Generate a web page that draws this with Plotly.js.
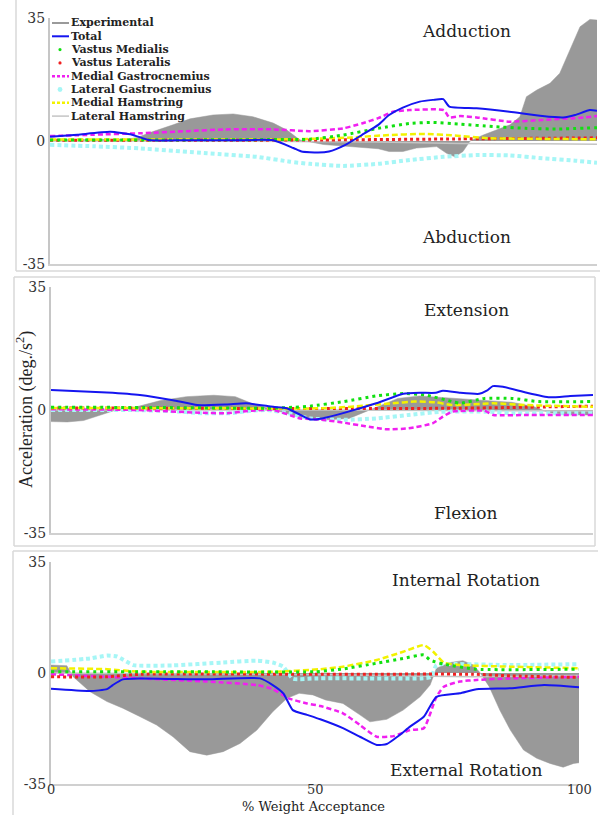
<!DOCTYPE html>
<html>
<head>
<meta charset="utf-8">
<script src="https://cdn.plot.ly/plotly-3.0.1.min.js"></script>
<style>html,body{margin:0;padding:0;background:#fff;}#chart{width:605px;height:815px;}</style>
</head>
<body>
<div id="chart"></div>
<script>
// ---------- DATA ----------
const seriesNames = ["Experimental","Total","Vastus Medialis","Vastus Lateralis","Medial Gastrocnemius","Lateral Gastrocnemius","Medial Hamstring","Lateral Hamstring"];
const panelLabelsTop = ["Adduction","Extension","Internal Rotation"];
const panelLabelsBottom = ["Abduction","Flexion","External Rotation"];
const yTickVals = [-35, 0, 35];
const xTickVals = [0, 50, 100];
const yTitle = "Acceleration (deg./s<sup>2</sup>)";
const xTitle = "% Weight Acceptance";

// Panel 1 (adduction / abduction)
const exp1X = [0,5,10,14,16,18.3,22.5,25.6,29.8,33.5,37.1,40.8,43.3,45.7,50,55,60,62,64.5,67,70.7,72.5,74,75.5,76.8,79.2,81.7,84.1,85.9,87.1,89,91.4,93.2,94.5,95.7,96.9,98.7,100];
const exp1Y = [0.3,0.4,0.4,0.5,1.0,2.4,4.6,6.3,7.4,7.7,6.9,5.1,3.1,0.3,-1.0,-1.5,-2.2,-3.0,-3.0,-2.0,-1.6,-3.5,-4.5,-3.0,0,1.7,3.1,4.6,6.9,12.6,14.5,16.4,19.3,24,28.7,32.5,34.6,34.4];
const tot1X = [0,5,11,15,18,25,33,40.8,44.5,46,49,51,54,57,60,62,64.5,67.6,70,71.9,73,78,84,90,93.8,96,98.7,100];
const tot1Y = [1.2,1.8,2.6,1.8,0.3,0.2,0.2,0.2,-2.0,-3.0,-3.3,-3.0,-1.1,1.7,4.6,7.4,9.5,11.2,11.7,11.9,9.8,9.3,8.3,7.1,6.7,7.4,8.8,8.6];
const vm1X = [0,20,40,47.5,53.6,60,65.8,70,75,81,87,93,100];
const vm1Y = [0.3,0.3,0.4,0.5,1.7,3.6,5.0,5.3,4.8,4.1,3.6,3.4,3.8];
const vl1X = [0,25,50,75,100];
const vl1Y = [0.2,0.2,0.3,0.6,0.9];
const mg1X = [0,8,16.5,25,32,40.8,47.5,53.6,57,60,62.7,65.8,72,73,75,78,84,90,96,100];
const mg1Y = [1.4,1.8,2.2,2.8,3.3,3.3,2.8,3.6,5.0,6.5,8.3,8.8,8.8,6.7,7.1,6.7,5.5,6.0,6.5,7.1];
const lg1X = [0,8,16.5,28.7,37.8,43.9,47.5,53.6,60,65.8,72,78,84,90,96,100];
const lg1Y = [-1.1,-1.5,-2.1,-3.5,-4.5,-5.9,-6.5,-7.1,-6.5,-5.4,-4.5,-4.0,-4.1,-4.9,-5.6,-6.2];
const mh1X = [0,25,45,55,62,68,74,80,90,100];
const mh1Y = [0.4,0.4,0.5,1.0,1.7,2.0,1.6,0.8,0.6,0.5];
const lh1X = [0,30,60,75,90,100];
const lh1Y = [0,0,-0.3,-0.7,-0.8,-0.9];

// Panel 2 (extension / flexion)
const exp2X = [0,3,6,9,12,16,20,25,30,34,37,40,43,47,51,55,58,61,64,68,72,76,80,85,89,92,96,100];
const exp2Y = [-3.3,-3.4,-3.0,-1.5,0,1.0,2.6,3.8,4.2,3.8,1.9,0.6,-0.8,-2.4,-2.8,-2.4,-0.5,1.5,3.3,4.0,3.6,3.0,2.6,2.2,1.0,-0.8,-1.4,-1.4];
const tot2X = [0,10.3,16.4,22.5,27,32.5,36,41,43.5,46,47.8,50,53.9,60,65,68,71,72.3,75.5,79,80.4,81.5,83.4,87.8,92,95.8,100];
const tot2Y = [5.7,5.0,4.3,2.8,1.4,1.6,1.9,0.9,0.5,-1.4,-2.7,-2.4,-0.9,1.9,4.6,4.9,4.9,5.5,4.9,4.6,5.5,6.8,6.6,4.9,3.6,4.0,4.3];
const vm2X = [0,20,40,45,47.8,54,60,65,69,74,75.5,80,85,90,100];
const vm2Y = [0.8,0.7,0.5,0.8,1.1,2.4,4.0,4.7,4.3,2.4,1.9,3.3,3.3,2.4,2.4];
const vl2X = [0,25,50,75,100];
const vl2Y = [0.6,0.5,0.4,0.5,1.1];
const mg2X = [0,16,27.7,32.5,37,41,46,49.6,54,58,62,66,70.4,72.3,74,80,81.6,88,100];
const mg2Y = [0.2,0,-0.8,-0.9,-0.2,0,-2.4,-2.7,-3.6,-4.6,-5.5,-5.2,-3.8,-1.9,-0.5,-0.2,-1.4,-1.4,-1.4];
const lg2X = [0,15,22,28,33,37,40,44,47.8,54,60,66,72,81,85,100];
const lg2Y = [0,0,-0.3,-0.9,-0.9,-0.2,0,-1.0,-2.4,-2.8,-2.4,-1.4,-0.5,-0.5,-0.9,-0.9];
const mh2X = [0,25,50,56,63,67,71,74,81.6,87.8,100];
const mh2Y = [0.6,0.5,0.5,1.0,1.9,2.4,2.2,1.4,1.9,1.4,0.9];
const lh2X = [0,50,100];
const lh2Y = [0,0,-0.3];

// Panel 3 (internal / external rotation)
const exp3X = [0,3,4.2,7.4,10.6,13.6,16.9,20,23.1,26.3,29.5,32.6,35.8,39,42,44.7,47,49.6,52,55.3,58.5,60.4,63.6,66.7,69.9,71.8,73,75.6,78,80,81.3,83,85,87,89.5,92,94.5,97,99,100];
const exp3Y = [2.5,2.3,-1.2,-5.9,-9.0,-11.1,-13.8,-16.4,-20.1,-24.8,-25.9,-24.8,-22.2,-18.0,-12.2,-8.0,-6.4,-6.9,-8.5,-9.6,-13.2,-15.4,-14.6,-11.7,-7.5,-3.8,1.5,3.3,3.9,2.5,0,-4.3,-11.7,-18.0,-24.3,-26.9,-28.5,-29.7,-28.5,-28.3];
const tot3X = [0,7.4,10.6,11.7,13.6,16.9,29.5,39.6,42,44,45.8,48.5,51,55.3,58.5,61.7,63.6,66,68,70.6,73,77.4,80.6,87,93.4,100];
const tot3Y = [-5.0,-5.7,-5.1,-3.8,-2.0,-1.7,-2.0,-1.7,-3.8,-6.4,-11.7,-13.2,-14.6,-17.4,-20.1,-22.7,-22.4,-19.6,-16.9,-13.8,-7.5,-6.4,-5.1,-4.8,-3.8,-4.5];
const vm3X = [0,25,50,55,61.7,66.7,70.6,71.8,74.4,80.6,100];
const vm3Y = [0.4,0.4,0.4,1.2,3.1,4.6,5.7,4.1,2.8,1.2,1.2];
const vl3X = [0,10.6,17,50,80,87,100];
const vl3Y = [-1.2,-1.2,-0.4,-0.4,-0.4,-0.9,-1.4];
const mg3X = [0,10.6,16.9,29.5,39,42,45,48.5,51,55.3,58.5,61.7,64.9,68,70.6,73,74.4,77.4,80.6,87,100];
const mg3Y = [-0.4,-1.2,-1.7,-2.7,-3.8,-5.1,-8.0,-9.6,-10.4,-12.7,-16.4,-20.1,-19.9,-18.0,-17.4,-7.5,-4.3,-2.7,-2.2,-1.7,-1.2];
const lg3X = [0,7.4,10.6,12.5,15.6,23,32.6,39,42,44,45.8,50,60,70,72,73,77.4,87,100];
const lg3Y = [3.6,4.6,5.5,5.2,2.5,2.4,3.3,3.9,3.3,2.0,-1.8,-1.7,-1.7,-1.7,-1.2,2.5,2.8,2.5,2.8];
const mh3X = [0,10.6,17,42,51,55.3,61.7,66.7,70.6,72.4,74.4,77.4,87,100];
const mh3Y = [1.5,1.2,0.4,0.4,1.2,2.0,4.1,6.7,8.8,6.7,3.3,2.5,2.0,1.5];
const lh3X = [0,50,72,80,100];
const lh3Y = [0,-0.5,-1.0,-1.2,-0.8];

// ---------- STYLES ----------
const W = 605, H = 815;
const PX = x => x / W;
const PY = y => 1 - y / H;
const serif = "DejaVu Serif, Liberation Serif, serif";
const times = "Liberation Serif, Times New Roman, serif";

const styles = {
  "Experimental":          {color:"#9a9a9a", width:2,   dash:"solid",   sym:"line"},
  "Total":                 {color:"#1515f0", width:2,   dash:"solid",   sym:"line"},
  "Vastus Medialis":       {color:"#11e011", width:3,   dash:"3px,4px", sym:"dot", r:1.6},
  "Vastus Lateralis":      {color:"#f02020", width:3,   dash:"3px,3px", sym:"dot", r:1.6},
  "Medial Gastrocnemius":  {color:"#f020f0", width:2.5, dash:"5px,3px", sym:"line"},
  "Lateral Gastrocnemius": {color:"#a6f6f6", width:4,   dash:"4px,3px", sym:"dot", r:2.4},
  "Medial Hamstring":      {color:"#f2f200", width:2.5, dash:"6px,3px", sym:"line"},
  "Lateral Hamstring":     {color:"#c4c4c4", width:1.5, dash:"solid",   sym:"line"}
};

const panels = [
  {xa:"x",  ya:"y",  exp:[exp1X,exp1Y], s:{"Total":[tot1X,tot1Y],"Vastus Medialis":[vm1X,vm1Y],"Vastus Lateralis":[vl1X,vl1Y],"Medial Gastrocnemius":[mg1X,mg1Y],"Lateral Gastrocnemius":[lg1X,lg1Y],"Medial Hamstring":[mh1X,mh1Y],"Lateral Hamstring":[lh1X,lh1Y]}},
  {xa:"x2", ya:"y2", exp:[exp2X,exp2Y], s:{"Total":[tot2X,tot2Y],"Vastus Medialis":[vm2X,vm2Y],"Vastus Lateralis":[vl2X,vl2Y],"Medial Gastrocnemius":[mg2X,mg2Y],"Lateral Gastrocnemius":[lg2X,lg2Y],"Medial Hamstring":[mh2X,mh2Y],"Lateral Hamstring":[lh2X,lh2Y]}},
  {xa:"x3", ya:"y3", exp:[exp3X,exp3Y], s:{"Total":[tot3X,tot3Y],"Vastus Medialis":[vm3X,vm3Y],"Vastus Lateralis":[vl3X,vl3Y],"Medial Gastrocnemius":[mg3X,mg3Y],"Lateral Gastrocnemius":[lg3X,lg3Y],"Medial Hamstring":[mh3X,mh3Y],"Lateral Hamstring":[lh3X,lh3Y]}}
];
const drawOrder = ["Lateral Hamstring","Lateral Gastrocnemius","Medial Gastrocnemius","Vastus Lateralis","Medial Hamstring","Vastus Medialis","Total"];

const traces = [];
panels.forEach(p => {
  traces.push({type:"scatter", mode:"lines", x:p.exp[0], y:p.exp[1], xaxis:p.xa, yaxis:p.ya,
    name:"Experimental", fill:"tozeroy", fillcolor:"#999999", line:{color:"#999999", width:0.5}, showlegend:false, hoverinfo:"skip"});
  drawOrder.forEach(n => {
    const st = styles[n];
    traces.push({type:"scatter", mode:"lines", x:p.s[n][0], y:p.s[n][1], xaxis:p.xa, yaxis:p.ya, name:n,
      line:{color:st.color, width:st.width, dash:st.dash, shape:"spline", smoothing:0.5}, showlegend:false, hoverinfo:"skip"});
  });
});

// ---------- LAYOUT ----------
const axisFont = {family:serif, size:14, color:"#333"};
const yax = (top, bot, anchor) => ({domain:[PY(bot), PY(top)], range:[-35,35], anchor:anchor,
  showline:true, linecolor:"#c6c6c6", linewidth:2, showgrid:false, zeroline:false, ticks:"",
  tickmode:"array", tickvals:yTickVals, ticktext:yTickVals.map(String), tickfont:axisFont, fixedrange:true});
const xax = (left, right, anchor) => ({domain:[PX(left), PX(right)], range:[0,100], anchor:anchor,
  showline:true, linecolor:"#d0d0d0", linewidth:2, showgrid:false, zeroline:false, ticks:"",
  showticklabels:false, fixedrange:true});

const annotations = [];
const labelFont = {family:serif, size:17, color:"#222"};
const topY = [30.5, 310, 580];
const botY = [237, 513, 770];
panelLabelsTop.forEach((t,i) => annotations.push({xref:"paper", yref:"paper", x:PX(466), y:PY(topY[i]), text:t, showarrow:false, font:labelFont, xanchor:"center", yanchor:"middle"}));
panelLabelsBottom.forEach((t,i) => annotations.push({xref:"paper", yref:"paper", x:PX(466), y:PY(botY[i]), text:t, showarrow:false, font:labelFont, xanchor:"center", yanchor:"middle"}));
annotations.push({xref:"paper", yref:"paper", x:PX(25), y:PY(410), text:yTitle, textangle:-90, showarrow:false, font:{family:times, size:18, color:"#222"}, xanchor:"center", yanchor:"middle"});
annotations.push({xref:"paper", yref:"paper", x:PX(313), y:PY(806.5), text:xTitle, showarrow:false, font:{family:serif, size:13, color:"#222"}, xanchor:"center", yanchor:"middle", borderpad:0});
// x tick labels of the bottom panel, placed through the x3 data scale
xTickVals.forEach(v => annotations.push({xref:"x3", yref:"paper", x:v, y:PY(789.5), text:String(v), showarrow:false,
  font:{family:serif, size:13, color:"#333"}, xanchor:"center", yanchor:"middle", borderpad:0}));

// Legend (drawn in panel 1, top-left)
const shapes = [];
seriesNames.forEach((n,i) => {
  const st = styles[n];
  const yy = 23 + i * 13.3;
  annotations.push({xref:"paper", yref:"paper", x:PX(70), y:PY(yy), text:"<b>"+n+"</b>", showarrow:false,
    font:{family:serif, size:11, color:"#222"}, xanchor:"left", yanchor:"middle", borderpad:0});
  if (st.sym === "line") {
    shapes.push({type:"line", xref:"paper", yref:"paper", x0:PX(52), x1:PX(69), y0:PY(yy), y1:PY(yy),
      line:{color:st.color, width:Math.min(st.width,2.5), dash:st.dash==="solid"?"solid":"3px,2px"}});
  } else {
    shapes.push({type:"circle", xref:"paper", yref:"paper", x0:PX(60-st.r), x1:PX(60+st.r), y0:PY(yy+st.r), y1:PY(yy-st.r),
      fillcolor:st.color, line:{width:0}});
  }
});

// Panel frames (light borders of the original figure)
const frame = "#d8d8d8";
[[16,0,16,271],[16,271,600,271],[14,277,14,546],[14,277,595,277],[595,277,595,546],[14,546,595,546],[13,551,13,815],[13,551,598,551]].forEach(s => {
  shapes.push({type:"line", xref:"paper", yref:"paper", x0:PX(s[0]), y0:PY(s[1]), x1:PX(s[2]), y1:PY(s[3]), line:{color:frame, width:1.5}, layer:"below"});
});

const layout = {
  width:W, height:H, margin:{l:0,r:0,t:0,b:0}, paper_bgcolor:"#fff", plot_bgcolor:"rgba(0,0,0,0)",
  showlegend:false, font:{family:serif},
  xaxis: xax(50, 597, "y"),  yaxis: yax(18, 264, "x"),
  xaxis2: xax(51, 593, "y2"), yaxis2: yax(287, 533, "x2"),
  xaxis3: xax(51, 579, "y3"),  yaxis3: yax(562, 784, "x3"),
  annotations: annotations, shapes: shapes
};

Plotly.newPlot("chart", traces, layout, {staticPlot:true, displayModeBar:false});
</script>
</body>
</html>
